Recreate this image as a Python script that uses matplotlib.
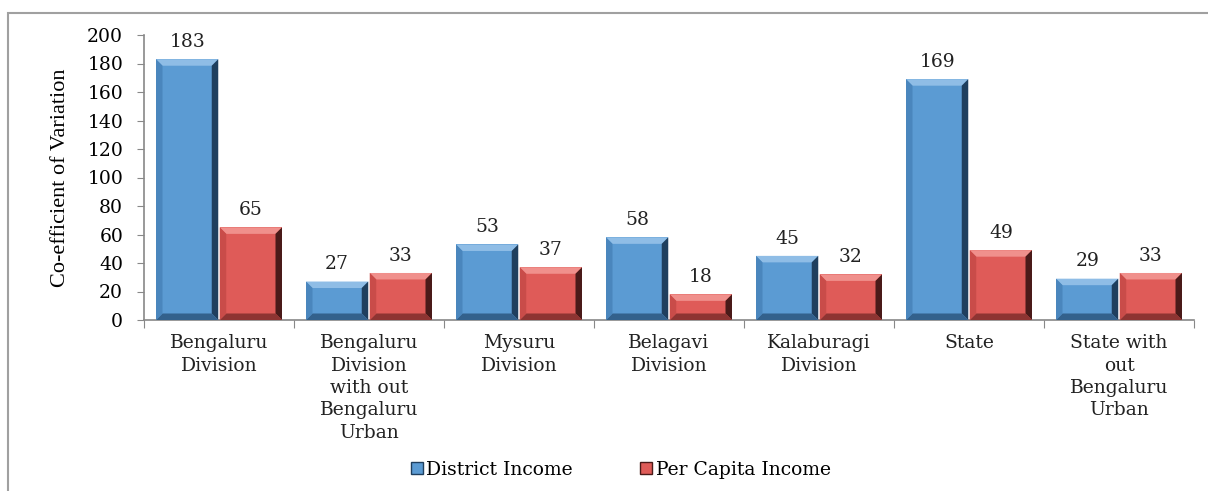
import matplotlib
matplotlib.use("Agg")
import matplotlib.pyplot as plt
from matplotlib.patches import Polygon, Rectangle
from matplotlib.lines import Line2D
import numpy as np

categories = ["Bengaluru\nDivision", "Bengaluru\nDivision\nwith out\nBengaluru\nUrban",
              "Mysuru\nDivision", "Belagavi\nDivision", "Kalaburagi\nDivision",
              "State", "State with\nout\nBengaluru\nUrban"]
district_income = [183, 27, 53, 58, 45, 169, 29]
per_capita_income = [65, 33, 37, 18, 32, 49, 33]
series_names = ["District Income", "Per Capita Income"]

SERIF = ["DejaVu Serif"]
FS = 13.5
fig = plt.figure(figsize=(12.08, 4.91), dpi=100)
ax = fig.add_axes([144/1208, 171/491, (1194-144)/1208, (320-35)/491])

# outer chart border
fig.patches.append(Rectangle((8/1208, -0.1), 1.2, 1.1 - 13/491, transform=fig.transFigure,
                             fill=False, edgecolor="#a0a0a0", linewidth=1.5))

x = np.arange(len(categories))
w = 0.415
blue = {"face": "#5b9bd3", "top": "#8fbde6", "right": "#1f3f5e", "bottom": "#33618c", "left": "#4a86bd"}
red = {"face": "#df5b58", "top": "#f0908c", "right": "#4a1a19", "bottom": "#8e3432", "left": "#c94c49"}

ax.set_xlim(-0.5, len(categories) - 0.5)
ax.set_ylim(0, 200)

b1 = ax.bar(x - w/2 - 0.005, district_income, width=w, color=blue["face"], linewidth=0, zorder=2)
b2 = ax.bar(x + w/2 + 0.005, per_capita_income, width=w, color=red["face"], linewidth=0, zorder=2)

fig.canvas.draw()
d = 6.5
for bars, col in ((b1, blue), (b2, red)):
    for p in bars:
        bb = p.get_window_extent()
        x0, y0, x1, y1 = bb.x0, bb.y0, bb.x1, bb.y1
        dd = min(d, (y1 - y0) / 2.5)
        polys = [
            ([(x0, y1), (x1, y1), (x1 - dd, y1 - dd), (x0 + dd, y1 - dd)], col["top"]),
            ([(x1, y1), (x1, y0), (x1 - dd, y0 + dd), (x1 - dd, y1 - dd)], col["right"]),
            ([(x0, y0), (x1, y0), (x1 - dd, y0 + dd), (x0 + dd, y0 + dd)], col["bottom"]),
            ([(x0, y1), (x0, y0), (x0 + dd, y0 + dd), (x0 + dd, y1 - dd)], col["left"]),
        ]
        for pts, c in polys:
            fig.patches.append(Polygon(pts, closed=True, transform=None, facecolor=c,
                                       edgecolor="none", zorder=3))

for bars, vals in ((b1, district_income), (b2, per_capita_income)):
    for p, v in zip(bars, vals):
        ax.annotate(str(v), (p.get_x() + p.get_width()/2, v), xytext=(0, 6),
                    textcoords="offset points", ha="center", va="bottom",
                    fontsize=FS, family=SERIF, color="#222222")

ax.set_yticks(range(0, 201, 20))
ax.tick_params(axis="y", direction="out", length=5, color="#888888", labelsize=FS, pad=10)
for t in ax.get_yticklabels():
    t.set_family(SERIF)
ax.set_xticks(np.arange(-0.5, len(categories), 1.0))
ax.set_xticklabels([])
ax.tick_params(axis="x", direction="out", length=6, color="#888888")
for i, c in enumerate(categories):
    ax.text(i, -0.05, c, transform=ax.get_xaxis_transform(), ha="center", va="top",
            fontsize=FS, family=SERIF, linespacing=1.31, color="#222222")

for s in ["top", "right"]:
    ax.spines[s].set_visible(False)
for s in ["left", "bottom"]:
    ax.spines[s].set_color("#888888")
    ax.spines[s].set_linewidth(1.2)

ax.set_ylabel("Co-efficient of Variation", family="Liberation Serif", fontsize=16, labelpad=12)

handles = [Line2D([], [], marker="s", linestyle="none", markersize=8, markerfacecolor=blue["face"],
                  markeredgecolor=blue["right"]),
           Line2D([], [], marker="s", linestyle="none", markersize=8, markerfacecolor=red["face"],
                  markeredgecolor=red["right"])]
fig.legend(handles, series_names, loc="center", bbox_to_anchor=(620/1208, 1 - 470/491), ncol=2,
           frameon=False, prop={"family": SERIF, "size": FS}, handletextpad=0.1,
           columnspacing=3.5, handlelength=0.8)

fig.savefig("out.png", dpi=100)
